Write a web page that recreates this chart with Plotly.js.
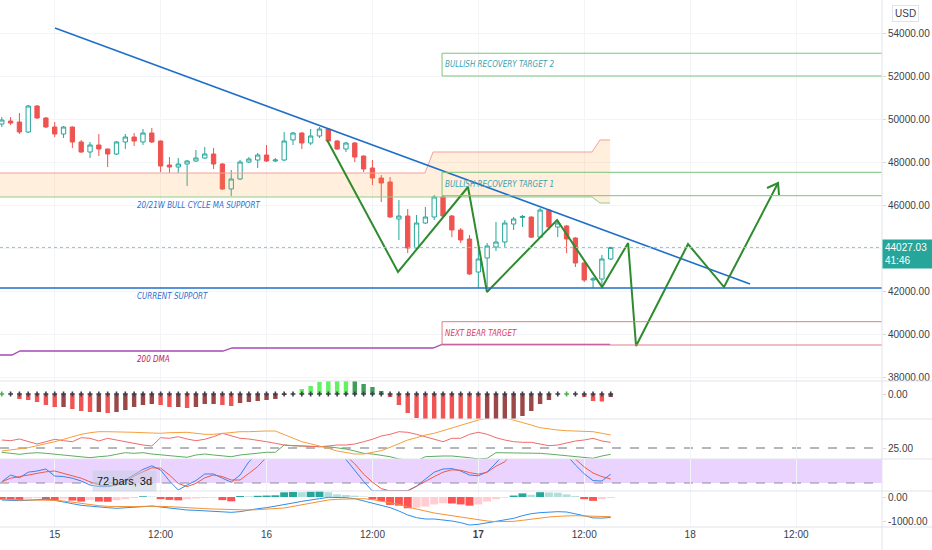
<!DOCTYPE html>
<html><head><meta charset="utf-8">
<script src="https://cdn.plot.ly/plotly-3.0.1.min.js"></script>
<style>html,body{margin:0;padding:0;background:#fff}#chart{width:932px;height:550px}</style>
</head><body><div id="chart"></div>
<script>
// ---------- DATA ----------
const BASE = Date.UTC(2021, 4, 15, 0, 0, 0);           // day "15" 00:00
const firstBarHour = -6;                                // first 1h bar: 14th 18:00
const tickHours = [0, 12, 24, 36, 48, 60, 72, 84];
const tickLabels = ['15', '12:00', '16', '12:00', '<b>17</b>', '12:00', '18', '12:00'];

const barOpen  = [49768,49907,49861,49396,50605,50047,49628,49303,49628,48931,48465,48791,48605,48372,48931,49163,48931,49349,48977,47861,47768,47907,48047,48186,48372,47907,46745,47210,48000,48093,48326,48047,48093,49024,49349,48884,49210,49535,48977,48605,48884,48279,47721,47256,47070,45349,45489,44001,45163,45442,46373,45489,44838,44419,42884,43536,44047,44280,45117,45420,45442,44506,45768,44977,45024,44465,43303,42512,42559,43489];
const barHigh  = [50093,50093,50279,50651,50651,50093,49861,49675,49650,49024,48931,49303,48620,48977,49303,49349,49535,49582,49000,48233,48186,48093,48559,48698,48652,47950,47628,48093,48233,48419,48791,48186,49396,49396,49380,49535,49628,49582,49024,48931,48931,48300,48093,47396,47303,46233,45814,45535,45907,46466,46466,45535,44931,44605,44233,44233,45210,45303,45442,45535,45470,45861,45814,45303,45070,44506,43350,42652,43675,44047];
const barLow   = [49628,49721,49303,49349,50000,49582,49163,49117,48652,48419,48186,48279,47768,48326,48605,48745,48791,48884,47535,47489,47489,46884,48000,48140,47675,46698,46419,47163,47954,47721,48000,48000,48047,48791,48605,48791,49117,48931,48559,48465,48000,47535,46931,46140,45400,44373,43768,43908,45117,45303,45442,44506,44233,42745,42140,42187,43861,44047,44838,44977,44465,44465,44838,44506,43768,43117,42419,42140,42187,43442];
const barClose = [49954,49814,49396,50605,50047,49628,49303,49628,48931,48465,48791,48605,48372,48931,49163,48977,49349,48931,47814,47768,47907,48047,48186,48372,47907,46745,47210,48000,48140,48326,48047,48093,48977,49349,48884,49210,49535,48977,48605,48884,48233,47675,47256,47024,45442,45489,44001,45163,45442,46373,45489,44838,44373,42791,43489,44094,44280,45163,45349,45470,44506,45768,44977,45163,44419,43303,42512,42559,43489,44027];

// Squeeze momentum histogram
const sqzMomentum = [0,0,-500,-600,-800,-1100,-1300,-1300,-1500,-1700,-1800,-1800,-1900,-1800,-1600,-1300,-1100,-1000,-1100,-1300,-1300,-1400,-1300,-1000,-1000,-1100,-1200,-900,-800,-700,-600,-500,-100,0,500,800,1200,1400,1500,1600,1500,1000,700,300,-300,-1100,-1900,-2400,-2800,-3100,-3400,-3700,-3900,-4100,-4200,-4000,-3700,-3300,-2800,-2200,-1700,-1000,-600,0,0,0,-300,-700,-750,-300];
const sqzOffBars = [0, 64];

// DMI / ADX
const dmiRed    = [33,32.3,34,31.3,29,31.3,33.7,32.3,31.3,35.3,34.7,32,34.7,33,31.3,29.7,28,27,35.3,34.7,36.3,34,32.3,33.7,36.3,39.7,37,34.7,34,33,31.3,29.7,28,27.3,27,27,26.3,27,28,28,29,31.3,33.7,37,38.7,41.3,40.7,38.7,36.3,34,31.3,34.7,34.7,38.7,40.7,38.7,35.3,33,31.3,30.7,30.7,29,27.3,28,30.3,32,33,34.7,32,30.7];
const dmiOrange = [22,23,24,25.3,27.3,29,31.3,33.7,36.3,38.7,40.3,41.3,41.3,41.3,41.3,40.7,40.3,39.7,39.7,40.3,40.7,40.7,39.7,38.7,38.7,39.7,40.3,41.3,41.3,42,42,42,38.7,34.7,31.3,29.2,27.3,24.7,22,20.3,19,19,20.3,22.3,25.7,29.7,33,35.3,38,39.7,42.3,44.7,48,50.3,53,54.7,55.7,55.3,53,50.3,48,45.3,44,43,42.3,42,42,41.3,39.7,38];
const dmiGreen  = [20.7,19.7,18.7,19.7,20.3,19.7,18.7,18,17,16.3,15.3,16.3,17,18.7,20.3,19.7,20.3,19,18,17.3,16.3,15.7,18,19,18,17,16.3,18,19,19.7,20.7,20.7,28,27.3,27,26,26.3,26.3,25.3,24,22,19.7,19,18,16.3,14,13,12,16.3,17,17,17,16.3,15.3,14,14.7,20.3,20.3,19.7,19.7,20.3,19.7,19,18,17,16.3,15.3,14.7,17,18.7];
const dmiLevel = 25;

// Stoch RSI
const stochK = [23,40,33,47,50,55,37.5,36,32,25,15,11,11,15,27.5,40,54,63,52.5,25,2.5,15,26,42.5,42.5,32,22,40,73,95,100,100,100,100,100,100,100,100,100,79,50,24,0,0,0,0,1,12,30,47,55,56,50,40,38,48,70,95,100,100,100,100,100,100,90,65,43,26,25,42];
const stochD = [23,32,36,40,44,48,50,44,37.5,32,23,15,13,15,23,37.5,48,58,57,40,19,11,19,33,40,36,27.5,27.5,44,61,85,95,100,100,100,100,100,100,100,88,68,42,22,6,0,0,0,12,25,36,47,53,52,46,42,47,62,73,100,100,100,100,100,100,100,80,60,45,36,30];
const stochUpper = 80, stochLower = 20;
const rangeLabel = '72 bars, 3d', rangeLabelHour = 7.9, rangeLabelValue = 25;

// MACD
const macdHist   = [-110,-120,-130,-70,-40,-110,-130,-70,-150,-190,-120,-190,-200,-140,-90,-40,30,20,-90,-120,-140,-90,-60,-40,-30,-130,-180,40,30,50,60,70,195,210,200,222,230,200,110,85,55,20,-100,-170,-330,-360,-470,-440,-400,-310,-260,-270,-310,-360,-310,-190,-90,-30,60,150,90,200,190,180,110,40,-90,-160,-90,-40];
const macdLine   = [-125,-153,-153,-139,-111,-83,-139,-222,-278,-347,-389,-431,-444,-472,-458,-444,-403,-375,-417,-458,-514,-542,-556,-569,-583,-611,-639,-611,-542,-486,-444,-389,-319,-250,-181,-111,-69,-14,-14,-28,-69,-167,-236,-333,-444,-583,-750,-861,-917,-917,-944,-1000,-1069,-1167,-1139,-1083,-1028,-972,-889,-778,-694,-653,-625,-611,-625,-695,-780,-870,-880,-850];
const macdSignal = [-83,-111,-125,-125,-125,-125,-139,-167,-222,-278,-319,-361,-389,-403,-403,-403,-389,-375,-389,-403,-431,-458,-472,-486,-500,-514,-542,-542,-542,-528,-514,-486,-458,-390,-330,-250,-180,-125,-97,-83,-56,-69,-111,-167,-236,-306,-417,-500,-597,-667,-722,-778,-819,-889,-958,-1000,-1028,-1028,-1014,-972,-917,-875,-833,-806,-778,-778,-790,-810,-820,-822];

// Drawings on the price pane
const trendHours = [0.03, 78.79],  trendPrices = [54233, 42326];
const zigHours  = [30.86, 38.90, 46.83, 48.98, 56.92, 62.02, 64.97, 65.87, 71.76, 75.84, 81.96];
const zigPrices = [49023, 42884, 46838, 41954, 45303, 42186, 44233, 39442, 44186, 42186, 47023];
const arrowHours = [80.71, 81.96, 82.07], arrowPrices = [46791, 47023, 46466];
const dmaHours  = [-6.2, -4.84, -3.93, 19.07, 20.09, 42.87, 43.89, 62.93];
const dmaPrices = [39024, 39024, 39210, 39210, 39350, 39350, 39520, 39520];
const bandHours = [-6.2, 41.96, 42.87, 60.88, 61.79, 62.93];
const bandUpper = [47489, 47489, 48466, 48466, 49024, 49024];
const bandLower = [46373, 46373, 46373, 46373, 46093, 46093];
const zoneNames = ['BULLISH RECOVERY TARGET 2', 'BULLISH RECOVERY TARGET 1', 'NEXT BEAR TARGET'];
const zoneLow   = [52000, 46433, 39489];
const zoneHigh  = [53060, 47521, 40573];
const zoneStartHour = 43.89;
const supportLevel = 42140;
const lastPrice = 44027.03, countdown = '41:46';
const leftLabels = ['20/21W BULL CYCLE MA SUPPORT', 'CURRENT SUPPORT', '200 DMA'];
const leftLabelPrices = [46000, 41768, 38838];
const leftLabelHour = 9.1;
const priceTicks = [38000, 40000, 42000, 44000, 46000, 48000, 50000, 52000, 54000];

// ---------- BUILD ----------
function toDate(h){ return new Date(BASE + h*3600000).toISOString().slice(0,19).replace('T',' '); }
const barTimes = barOpen.map((_, i) => toDate(firstBarHour + i));
const FONT = '"Liberation Sans", Arial, sans-serif';
const NOTE_FONT = '"DejaVu Sans Condensed", "Liberation Sans", sans-serif';
// the tick hidden under the last-price tag is left blank, as on the reference
const priceTickText = priceTicks.map(v => Math.abs(v - lastPrice) < 600 ? '' : v.toFixed(2));

const sqzColors = sqzMomentum.map((v, i) => { const p = i ? sqzMomentum[i-1] : 0;
  if (v >= 0) return v > p ? '#63f063' : '#3f9f5a'; return v < p ? '#f05454' : '#9c4848'; });
const macdColors = macdHist.map((v, i) => { const p = i ? macdHist[i-1] : 0;
  if (v >= 0) return v > p ? '#26a69a' : '#b2dfdb'; return v < p ? '#ff5252' : '#ffcdd2'; });
const dotColors = sqzMomentum.map((_, i) => sqzOffBars.includes(i) ? '#4caf50' : '#3b3f4a');

const traces = [
  {x: bandHours.map(toDate), y: bandLower, type:'scatter', mode:'lines', line:{color:'#8fce8f', width:1}, xaxis:'x', yaxis:'y'},
  {x: bandHours.map(toDate), y: bandUpper, type:'scatter', mode:'lines', line:{color:'#f4a09a', width:1}, fill:'tonexty', fillcolor:'rgba(255,160,50,0.17)', xaxis:'x', yaxis:'y'},
  {x: dmaHours.map(toDate), y: dmaPrices, type:'scatter', mode:'lines', line:{color:'#a74ab8', width:1.3}, xaxis:'x', yaxis:'y'},
  {x: barTimes, open: barOpen, high: barHigh, low: barLow, close: barClose, type:'candlestick',
   increasing:{line:{color:'#26a69a', width:1}, fillcolor:'#ffffff'},
   decreasing:{line:{color:'#ef5350', width:1}, fillcolor:'#ef5350'},
   whiskerwidth:0, xaxis:'x', yaxis:'y'},
  {x: trendHours.map(toDate), y: trendPrices, type:'scatter', mode:'lines', line:{color:'#1f6fc9', width:1.6}, xaxis:'x', yaxis:'y'},
  {x: zigHours.map(toDate), y: zigPrices, type:'scatter', mode:'lines', line:{color:'#2e8b2e', width:2}, xaxis:'x', yaxis:'y'},
  {x: arrowHours.map(toDate), y: arrowPrices, type:'scatter', mode:'lines', line:{color:'#2e8b2e', width:2}, xaxis:'x', yaxis:'y'},
  // squeeze pane
  {x: barTimes, y: sqzMomentum, type:'bar', width: 0.5*3600000, marker:{color: sqzColors}, xaxis:'x', yaxis:'y2'},
  {x: barTimes, y: sqzMomentum.map(() => 0), type:'scatter', mode:'markers', marker:{symbol:'cross', size:4, color: dotColors}, xaxis:'x', yaxis:'y2'},
  // DMI pane
  {x: barTimes, y: dmiGreen, type:'scatter', mode:'lines', line:{color:'#5fae5f', width:1}, xaxis:'x', yaxis:'y3'},
  {x: barTimes, y: dmiRed, type:'scatter', mode:'lines', line:{color:'#f06b6b', width:1}, xaxis:'x', yaxis:'y3'},
  {x: barTimes, y: dmiOrange, type:'scatter', mode:'lines', line:{color:'#f5a03c', width:1}, xaxis:'x', yaxis:'y3'},
  // Stoch RSI pane
  {x: barTimes, y: stochK, type:'scatter', mode:'lines', line:{color:'#3b82e8', width:1}, xaxis:'x', yaxis:'y4'},
  {x: barTimes, y: stochD, type:'scatter', mode:'lines', line:{color:'#ee5a44', width:1}, xaxis:'x', yaxis:'y4'},
  // MACD pane
  {x: barTimes, y: macdHist, type:'bar', width: 0.9*3600000, marker:{color: macdColors}, xaxis:'x', yaxis:'y5'},
  {x: barTimes, y: macdLine, type:'scatter', mode:'lines', line:{color:'#2f8ee8', width:1}, xaxis:'x', yaxis:'y5'},
  {x: barTimes, y: macdSignal, type:'scatter', mode:'lines', line:{color:'#f5922f', width:1}, xaxis:'x', yaxis:'y5'}
];

const H = 527;
const d1 = 1 - 381/H, d2 = 1 - 419/H, d3 = 1 - 459/H, d4 = 1 - 491/H;
const axFont = {family: FONT, size: 10, color: '#3a3e48'};
const yBase = {side:'right', anchor:'x', fixedrange:true, zeroline:false, showline:false,
  gridcolor:'#f1f3f7', ticks:'outside', ticklen:3, tickcolor:'#d6d9e0', tickfont: axFont};

const shapes = [];
zoneNames.forEach((n, i) => {
  const col = i < 2 ? '#7cc47c' : '#e57a86';
  shapes.push({type:'rect', xref:'x', yref:'y', x0: toDate(zoneStartHour), x1: toDate(200),
    y0: zoneLow[i], y1: zoneHigh[i], line:{color: col, width:1}, fillcolor:'rgba(0,0,0,0)'});
});
shapes.push({type:'line', xref:'paper', yref:'y', x0:0, x1:1, y0:supportLevel, y1:supportLevel, line:{color:'#1f6fc9', width:1.5}});
shapes.push({type:'line', xref:'paper', yref:'y', x0:0, x1:1, y0:lastPrice, y1:lastPrice, line:{color:'#7fcfc4', width:1, dash:'dot'}});
shapes.push({type:'line', xref:'paper', yref:'y3', x0:0, x1:1, y0:dmiLevel, y1:dmiLevel, line:{color:'#6b6f7a', width:1, dash:'dash'}, layer:'below'});
shapes.push({type:'rect', xref:'paper', yref:'y4', x0:0, x1:1, y0:stochLower, y1:stochUpper, line:{width:0}, fillcolor:'rgba(178,102,255,0.28)', layer:'below'});
shapes.push({type:'line', xref:'paper', yref:'y4', x0:0, x1:1, y0:stochLower, y1:stochLower, line:{color:'#8a8d96', width:1, dash:'dash'}, layer:'below'});
[d1, d2, d3, d4, 0].forEach(v => shapes.push({type:'line', xref:'paper', yref:'paper', x0:0, x1:932/882, y0:v, y1:v, line:{color:'#e0e3eb', width:1}}));
shapes.push({type:'line', xref:'paper', yref:'paper', x0:1, x1:1, y0:-23/H, y1:1, line:{color:'#e0e3eb', width:1}});

const annotations = [];
zoneNames.forEach((n, i) => {
  annotations.push({xref:'x', yref:'y', x: toDate(zoneStartHour), y:(zoneLow[i]+zoneHigh[i])/2, xanchor:'left', yanchor:'middle',
    xshift:1, text:'<i>'+n+'</i>', showarrow:false, font:{family:NOTE_FONT, size:8, color: i<2 ? '#3aa3b0' : '#e0405c'}});
});
leftLabels.forEach((n, i) => {
  annotations.push({xref:'x', yref:'y', x: toDate(leftLabelHour), y: leftLabelPrices[i], xanchor:'left', yanchor:'middle',
    text:'<i>'+n+'</i>', showarrow:false, font:{family:NOTE_FONT, size:8, color: i<2 ? '#2f6fcf' : '#c2185b'}});
});
annotations.push({xref:'paper', yref:'y', x:1, y:lastPrice, xanchor:'left', yanchor:'middle', yshift:-7, xshift:0,
  text: lastPrice.toFixed(2)+'<br>'+countdown, align:'left', showarrow:false, bgcolor:'#26a69a', width:46, borderpad:2,
  font:{family:FONT, size:10, color:'#ffffff'}});
annotations.push({xref:'paper', yref:'paper', x:1, y:1, xanchor:'left', yanchor:'top', xshift:10, yshift:-5,
  text:'USD', showarrow:false, bordercolor:'#e0e3eb', borderwidth:1, borderpad:2, bgcolor:'#fff', font:{family:FONT, size:10, color:'#3a3e48'}});
annotations.push({xref:'x', yref:'y4', x: toDate(rangeLabelHour), y: rangeLabelValue, xanchor:'center', yanchor:'middle',
  text: rangeLabel, showarrow:false, bgcolor:'rgba(196,204,224,0.55)', borderpad:4, font:{family:FONT, size:11, color:'#131722'}});

const layout = {
  width:932, height:550, margin:{l:0, r:50, t:0, b:23, pad:0},
  paper_bgcolor:'#ffffff', plot_bgcolor:'#ffffff', showlegend:false, hovermode:false, dragmode:false,
  font:{family:FONT, size:10, color:'#131722'}, barmode:'overlay',
  xaxis:{type:'date', anchor:'y5', range:[toDate(-6.2), toDate(93.74)], tickvals: tickHours.map(toDate), ticktext: tickLabels,
    showgrid:true, gridcolor:'#f3f4f8', showline:false, ticks:'', tickfont: axFont, rangeslider:{visible:false}, fixedrange:true},
  yaxis: Object.assign({}, yBase, {domain:[d1, 1], range:[37815, 55535], tickvals: priceTicks, ticktext: priceTickText, gridcolor:'#f3f4f8'}),
  yaxis2: Object.assign({}, yBase, {domain:[d2, d1], range:[-2500, 1300], tickvals:[0], ticktext:['0.00'], showgrid:false}),
  yaxis3: Object.assign({}, yBase, {domain:[d3, d2], range:[14, 54], tickvals:[dmiLevel], tickformat:'.2f', showgrid:false}),
  yaxis4: Object.assign({}, yBase, {domain:[d4, d3], range:[0, 80], showticklabels:false, ticks:'', showgrid:false}),
  yaxis5: Object.assign({}, yBase, {domain:[0, d4], range:[-1250, 250], tickvals:[0, -1000], ticktext:['0.00', '-1000.00'], showgrid:false}),
  shapes, annotations
};
Plotly.newPlot('chart', traces, layout, {staticPlot:true, displayModeBar:false});
</script></body></html>
